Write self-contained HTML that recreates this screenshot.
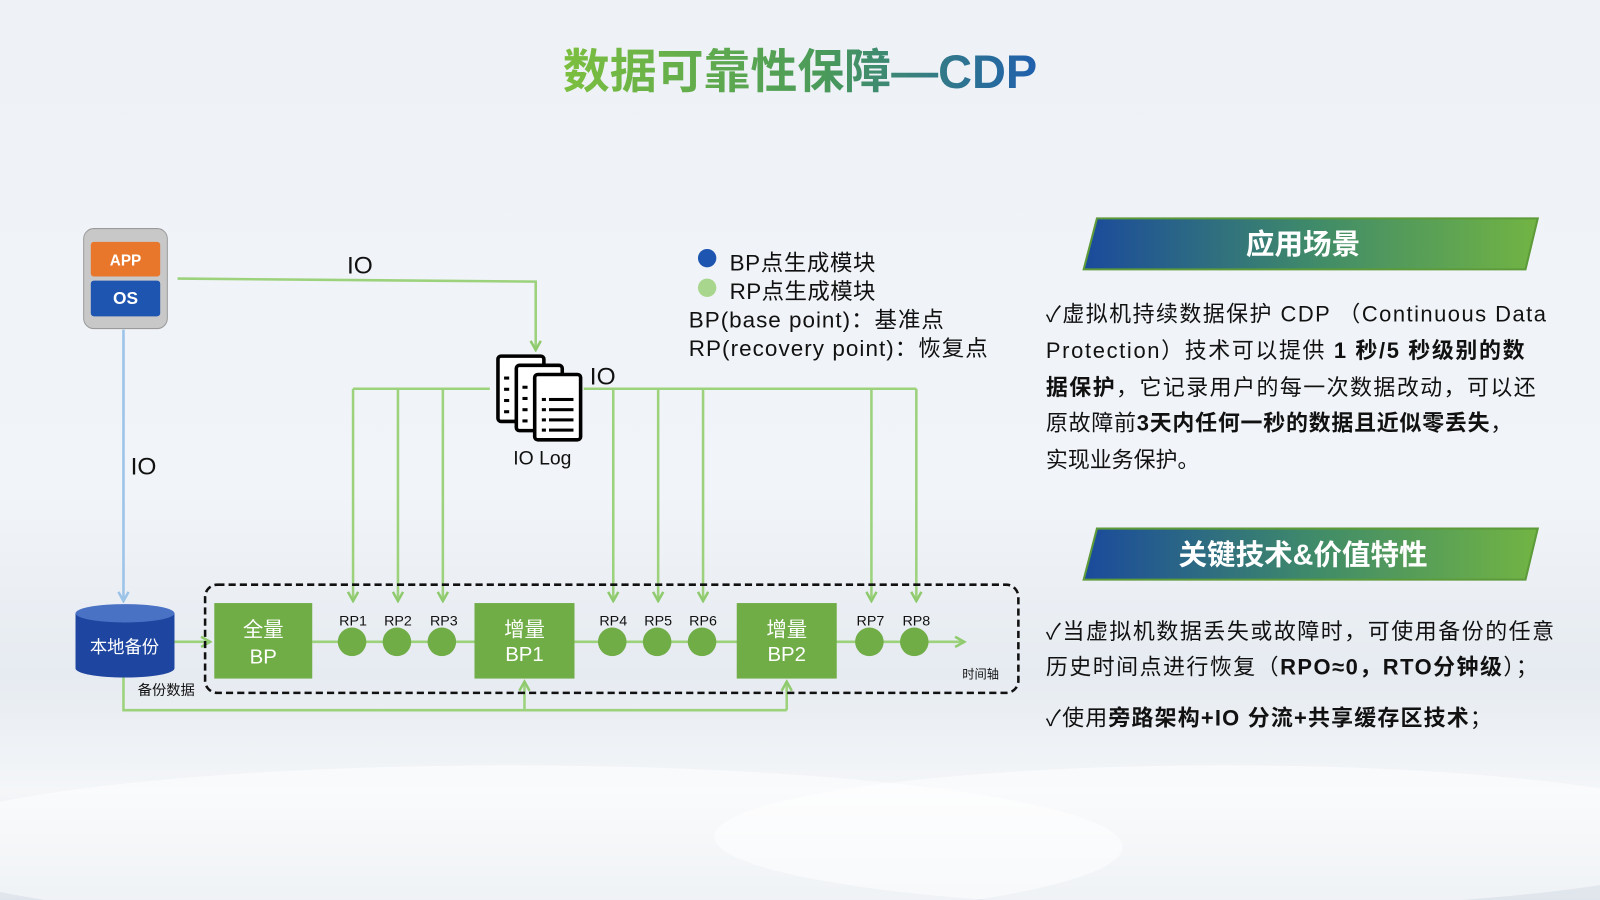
<!DOCTYPE html>
<html><head><meta charset="utf-8"><style>
html,body{margin:0;padding:0;width:1600px;height:900px;overflow:hidden;}
body{background:linear-gradient(180deg,#eef2f7 0%,#f1f4f8 55%,#e6ebf1 75%,#f4f6f8 88%,#dfe5ec 100%);}
svg{display:block}
text{font-family:"Liberation Sans","Noto Sans CJK SC",sans-serif;}
</style></head><body>
<svg width="1600" height="900" viewBox="0 0 1568 882" preserveAspectRatio="none">
<defs>
<linearGradient id="tg" x1="0" x2="1"><stop offset="0" stop-color="#7cbf3f"/><stop offset="0.55" stop-color="#4a9a5a"/><stop offset="1" stop-color="#1f5fae"/></linearGradient>
<linearGradient id="hg" x1="0" x2="1"><stop offset="0" stop-color="#1a4a9c"/><stop offset="0.5" stop-color="#3f8a6a"/><stop offset="1" stop-color="#72b443"/></linearGradient>
<marker id="ag" markerWidth="12" markerHeight="12" refX="10" refY="6" orient="auto" markerUnits="userSpaceOnUse"><path d="M1,1 L10,6 L1,11" fill="none" stroke="#8fcb6e" stroke-width="2.5"/></marker>
<marker id="ab" markerWidth="12" markerHeight="12" refX="10" refY="6" orient="auto" markerUnits="userSpaceOnUse"><path d="M1,1 L10,6 L1,11" fill="none" stroke="#9cc3e8" stroke-width="2.5"/></marker>
</defs>
<ellipse cx="500" cy="830" rx="600" ry="80" fill="#fff" opacity="0.5"/>
<ellipse cx="1200" cy="820" rx="500" ry="70" fill="#fff" opacity="0.5"/>
<text x="784" y="86" text-anchor="middle" font-size="46" font-weight="bold" fill="url(#tg)">数据可靠性保障—CDP</text>

<rect x="82" y="224" width="82" height="98" rx="10" fill="#c8c8c8" stroke="#9a9a9a"/>
<rect x="89" y="237" width="68" height="34" rx="3" fill="#e8772c"/>
<rect x="89" y="275" width="68" height="35" rx="3" fill="#1d55b0"/>
<text x="123" y="260" text-anchor="middle" font-size="15" font-weight="bold" fill="#fff">APP</text>
<text x="123" y="298" text-anchor="middle" font-size="17" font-weight="bold" fill="#fff">OS</text>

<g fill="none" stroke="#9cd27c" stroke-width="2.5">
<path d="M174,273 L525,276 L525,343" marker-end="url(#ag)"/>
<path d="M346,381 L480,381"/><path d="M572,381 L898,381"/>
<path d="M346,381 V589" marker-end="url(#ag)"/><path d="M390,381 V589" marker-end="url(#ag)"/><path d="M434,381 V589" marker-end="url(#ag)"/>
<path d="M601,381 V589" marker-end="url(#ag)"/><path d="M645,381 V589" marker-end="url(#ag)"/><path d="M689,381 V589" marker-end="url(#ag)"/>
<path d="M854,381 V589" marker-end="url(#ag)"/><path d="M898,381 V589" marker-end="url(#ag)"/>
<path d="M306,629 H945" marker-end="url(#ag)"/>
<path d="M171,629 H206" marker-end="url(#ag)"/>
<path d="M121,663 V696 H771"/>
<path d="M514,696 V668" marker-end="url(#ag)"/><path d="M771,696 V668" marker-end="url(#ag)"/>
</g>
<path d="M121,323 V589" fill="none" stroke="#9cc3e8" stroke-width="2.5" marker-end="url(#ab)"/>
<text x="340" y="268" font-size="24" fill="#111">IO</text>
<text x="128" y="465" font-size="24" fill="#111">IO</text>
<text x="578" y="377" font-size="24" fill="#111">IO</text>

<g stroke="#000" stroke-width="3.5" fill="#fff">
<rect x="488" y="349" width="45" height="64" rx="3"/>
<rect x="506" y="358" width="45" height="64" rx="3"/>
<rect x="524" y="367" width="45" height="64" rx="3"/>
</g>
<g fill="#000"><rect x="494" y="369" width="5" height="3"/><rect x="494" y="380" width="5" height="3"/><rect x="494" y="391" width="5" height="3"/><rect x="494" y="402" width="5" height="3"/>
<rect x="512" y="378" width="5" height="3"/><rect x="512" y="389" width="5" height="3"/><rect x="512" y="400" width="5" height="3"/><rect x="512" y="411" width="5" height="3"/>
<rect x="531" y="390" width="4" height="3"/><rect x="538" y="390" width="24" height="3"/>
<rect x="531" y="400" width="4" height="3"/><rect x="538" y="400" width="24" height="3"/>
<rect x="531" y="410" width="4" height="3"/><rect x="538" y="410" width="24" height="3"/>
<rect x="531" y="420" width="4" height="3"/><rect x="538" y="420" width="24" height="3"/></g>
<text x="503" y="455" font-size="19" fill="#111">IO Log</text>

<circle cx="693" cy="253" r="9" fill="#1d55b0"/>
<circle cx="693" cy="282" r="9" fill="#a8d68c"/>
<g font-size="22" fill="#111">
<text x="715" y="265" textLength="143">BP点生成模块</text>
<text x="715" y="293" textLength="143">RP点生成模块</text>
<text x="675" y="321" textLength="250">BP(base point)：基准点</text>
<text x="675" y="349" textLength="293">RP(recovery point)：恢复点</text>
</g>

<rect x="201" y="573" width="797" height="106" rx="12" fill="none" stroke="#111" stroke-width="2.5" stroke-dasharray="7,4"/>
<g fill="#70ad47">
<rect x="210" y="591" width="96" height="74"/><rect x="465" y="591" width="98" height="74"/><rect x="722" y="591" width="98" height="74"/>
<circle cx="345" cy="629" r="14"/><circle cx="389" cy="629" r="14"/><circle cx="433" cy="629" r="14"/>
<circle cx="600" cy="629" r="14"/><circle cx="644" cy="629" r="14"/><circle cx="688" cy="629" r="14"/>
<circle cx="852" cy="629" r="14"/><circle cx="896" cy="629" r="14"/>
</g>
<g font-size="20" fill="#fff" text-anchor="middle">
<text x="258" y="624">全量</text><text x="258" y="650">BP</text>
<text x="514" y="624">增量</text><text x="514" y="648">BP1</text>
<text x="771" y="624">增量</text><text x="771" y="648">BP2</text>
</g>
<g font-size="14" fill="#111" text-anchor="middle">
<text x="346" y="613">RP1</text><text x="390" y="613">RP2</text><text x="435" y="613">RP3</text>
<text x="601" y="613">RP4</text><text x="645" y="613">RP5</text><text x="689" y="613">RP6</text>
<text x="853" y="613">RP7</text><text x="898" y="613">RP8</text>
</g>
<text x="943" y="665" font-size="12" fill="#111">时间轴</text>
<text x="135" y="681" font-size="14" fill="#111">备份数据</text>

<path d="M74,601 V655 A48.5,9 0 0 0 171,655 V601 Z" fill="#1e45a0"/>
<ellipse cx="122.5" cy="601" rx="48.5" ry="9" fill="#4a72c4"/>
<text x="122" y="640" text-anchor="middle" font-size="17" fill="#fff">本地备份</text>

<polygon points="1075,214 1507,214 1495,264 1062,264" fill="url(#hg)" stroke="#5c9a3a" stroke-width="2"/>
<text x="1277" y="249" text-anchor="middle" font-size="28" font-weight="bold" fill="#fff">应用场景</text>
<polygon points="1075,518 1507,518 1495,568 1062,568" fill="url(#hg)" stroke="#5c9a3a" stroke-width="2"/>
<text x="1277" y="553" text-anchor="middle" font-size="28" font-weight="bold" fill="#fff">关键技术&amp;价值特性</text>
<g font-size="21.5" fill="#111">
<text x="1025" y="315" textLength="490">✓虚拟机持续数据保护 CDP （Continuous Data</text>
<text x="1025" y="351" textLength="469">Protection）技术可以提供 <tspan font-weight="bold">1 秒/5 秒级别的数</tspan></text>
<text x="1025" y="387" textLength="480"><tspan font-weight="bold">据保护</tspan>，它记录用户的每一次数据改动，可以还</text>
<text x="1025" y="422" textLength="457">原故障前<tspan font-weight="bold">3天内任何一秒的数据且近似零丢失</tspan>，</text>
<text x="1025" y="458">实现业务保护。</text>
<text x="1025" y="626" textLength="498">✓当虚拟机数据丢失或故障时，可使用备份的任意</text>
<text x="1025" y="661" textLength="482">历史时间点进行恢复（<tspan font-weight="bold">RPO≈0，RTO分钟级</tspan>）；</text>
<text x="1025" y="711" textLength="437">✓使用<tspan font-weight="bold">旁路架构+IO 分流+共享缓存区技术</tspan>；</text>
</g>
</svg>
</body></html>
